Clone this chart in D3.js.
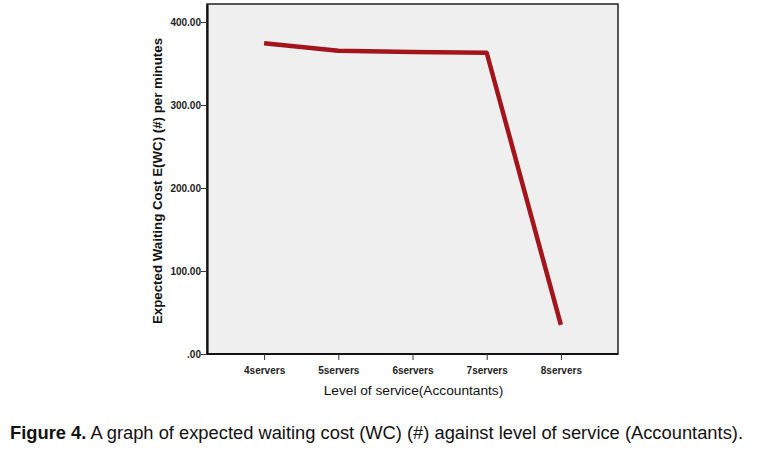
<!DOCTYPE html>
<html><head><meta charset="utf-8">
<script src="https://cdn.jsdelivr.net/npm/d3@7/dist/d3.min.js"></script>
<style>
body{margin:0;background:#fff;}
svg{display:block;}
</style></head>
<body>
<svg id="chart" width="757" height="450"></svg>
<script>
const categories = ["4servers","5servers","6servers","7servers","8servers"];
const waitingCost = [374.3, 365.4, 363.9, 363.0, 35.0];
const yTicks = [0, 100, 200, 300, 400];

const svg = d3.select("#chart");
const plot = {left:207, top:4, right:618, bottom:354};

const x = d3.scalePoint().domain(categories).range([plot.left, plot.right]).padding(0.77);
const y = d3.scaleLinear().domain([0, 421.7]).range([plot.bottom, plot.top]);

svg.append("rect").attr("x",plot.left).attr("y",plot.top)
  .attr("width",plot.right-plot.left).attr("height",plot.bottom-plot.top)
  .attr("fill","#efeff0").attr("stroke","#222").attr("stroke-width",1.5);

const fmt = d => d===0 ? ".00" : d3.format(".2f")(d);

const yAxis = svg.append("g").attr("transform",`translate(${plot.left},0)`)
  .call(d3.axisLeft(y).tickValues(yTicks).tickFormat(fmt).tickSize(6).tickSizeOuter(0));
yAxis.select(".domain").attr("stroke","#111").attr("stroke-width",2.2);
yAxis.selectAll(".tick line").attr("stroke","#333");
yAxis.selectAll(".tick text").attr("font-family","Arial,'Liberation Sans',sans-serif")
  .attr("font-weight","bold").attr("font-size",10).attr("fill","#222").attr("x",-6);

const xAxis = svg.append("g").attr("transform",`translate(0,${plot.bottom})`)
  .call(d3.axisBottom(x).tickSize(6).tickSizeOuter(0));
xAxis.select(".domain").attr("stroke","#111").attr("stroke-width",2.2)
  .attr("d",`M${plot.left},0H${plot.right}`);
xAxis.selectAll(".tick line").attr("stroke","#333");
xAxis.selectAll(".tick text").attr("font-family","Arial,'Liberation Sans',sans-serif")
  .attr("font-weight","bold").attr("font-size",10).attr("fill","#222").attr("dy","1.1em");

const line = d3.line().x((d,i)=>x(categories[i])).y(d=>y(d));
svg.append("path").datum(waitingCost).attr("d",line)
  .attr("fill","none").attr("stroke","#a3151a").attr("stroke-width",4.5)
  .attr("stroke-linejoin","round").attr("stroke-linecap","butt");

svg.append("text").attr("x",(plot.left+plot.right)/2+1).attr("y",395)
  .attr("text-anchor","middle").attr("font-family","Arial,'Liberation Sans',sans-serif")
  .attr("font-size",13.7).attr("fill","#111").text("Level of service(Accountants)");

svg.append("text").attr("transform",`translate(162,181) rotate(-90)`)
  .attr("text-anchor","middle").attr("font-family","Arial,'Liberation Sans',sans-serif")
  .attr("font-weight","bold").attr("font-size",13.3).attr("fill","#111")
  .text("Expected Waiting Cost E(WC) (#) per minutes");

const cap = svg.append("text").attr("x",10).attr("y",439)
  .attr("font-family","Arial,'Liberation Sans',sans-serif")
  .attr("font-size",17.5).attr("fill","#111")
  .attr("textLength",733).attr("lengthAdjust","spacingAndGlyphs");
cap.append("tspan").attr("font-weight","bold").text("Figure 4.");
cap.append("tspan").text(" A graph of expected waiting cost (WC) (#) against level of service (Accountants).");
</script>
</body></html>
